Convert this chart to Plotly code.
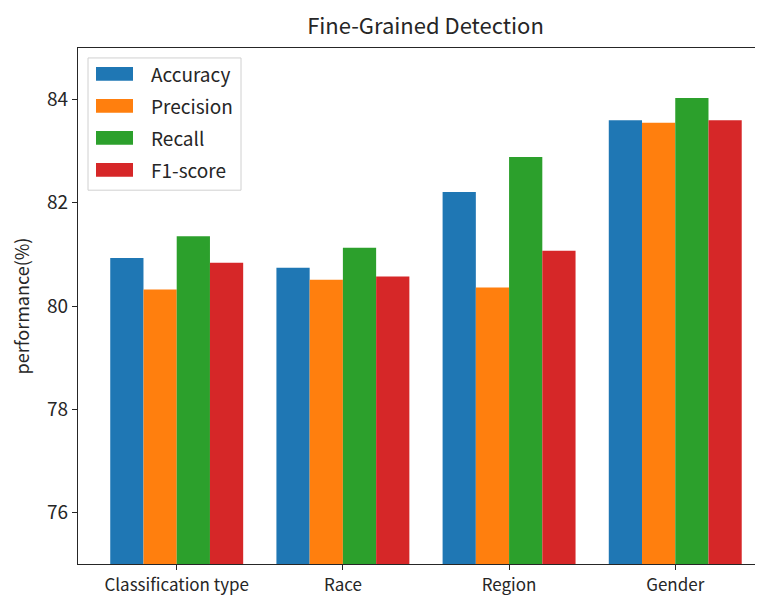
import plotly.graph_objects as go

categories = ["Classification type", "Race", "Region", "Gender"]
series_names = ["Accuracy", "Precision", "Recall", "F1-score"]
accuracy = [80.93, 80.74, 82.21, 83.60]
precision = [80.32, 80.51, 80.36, 83.55]
recall = [81.35, 81.13, 82.89, 84.03]
f1_score = [80.84, 80.57, 81.07, 83.60]
colors = ["#1f77b4", "#ff7f0e", "#2ca02c", "#d62728"]

series_values = [accuracy, precision, recall, f1_score]

FONT = "Noto Sans CJK SC, Open Sans, sans-serif"
OFF = 8  # page body margin
W, H = 763 - OFF, 596 - OFF
L, R, T, B = 78 - OFF, 0, 48 - OFF, 596 - 567
PW, PH = W - L - R, H - T - B

fig = go.Figure()
for name, vals, col in zip(series_names, series_values, colors):
    fig.add_trace(go.Bar(
        x=categories, y=vals, name=name, marker_color=col,
        marker_line_width=0, showlegend=False,
    ))

# convert screen pixel coordinates to paper coordinates
def px_x(x):
    return (x - OFF - L) / PW

def px_y(y):
    return 1 - (y - OFF - T) / PH

# custom legend (matplotlib style)
fig.add_shape(type="rect", xref="paper", yref="paper",
              x0=px_x(88), x1=px_x(241), y0=px_y(191), y1=px_y(58),
              line=dict(color="#d0d0d0", width=1), fillcolor="rgba(255,255,255,0.85)")
for i, (name, col) in enumerate(zip(series_names, colors)):
    yc = 74 + i * 32.2
    fig.add_shape(type="rect", xref="paper", yref="paper",
                  x0=px_x(96), x1=px_x(133), y0=px_y(yc + 7), y1=px_y(yc - 7),
                  line=dict(width=0), fillcolor=col)
    fig.add_annotation(xref="paper", yref="paper", x=px_x(149), y=px_y(yc),
                       text=name, showarrow=False, xanchor="left", yanchor="middle",
                       font=dict(size=19, color="#262626", family=FONT))

fig.update_layout(
    width=W, height=H,
    margin=dict(l=L, r=R, t=T, b=B),
    plot_bgcolor="white", paper_bgcolor="white",
    barmode="group", bargap=0.2, bargroupgap=0,
    title=dict(text="Fine-Grained Detection", x=(425.5 - OFF) / W, xref="container", xanchor="center",
               y=1 - (26 - OFF) / H, yref="container", yanchor="middle",
               font=dict(size=22, color="#262626", family=FONT)),
    font=dict(family=FONT, color="#262626"),
)
fig.update_xaxes(
    range=[-0.594, 3.528], showgrid=False, showline=True, linecolor="#262626", linewidth=1.2,
    mirror=True, ticks="outside", ticklen=5, tickcolor="#262626",
    tickfont=dict(size=17, family=FONT, color="#262626"), zeroline=False,
)
fig.update_yaxes(
    range=[75, 85], tickvals=[76, 78, 80, 82, 84], showgrid=False, showline=True,
    linecolor="#262626", linewidth=1.2, mirror=False, ticks="outside", ticklen=5,
    tickcolor="#262626", tickfont=dict(size=19, family=FONT, color="#262626"), zeroline=False,
    title=dict(text="performance(%)", font=dict(size=18, family=FONT, color="#262626"), standoff=15),
)

fig.write_html("out.html")
